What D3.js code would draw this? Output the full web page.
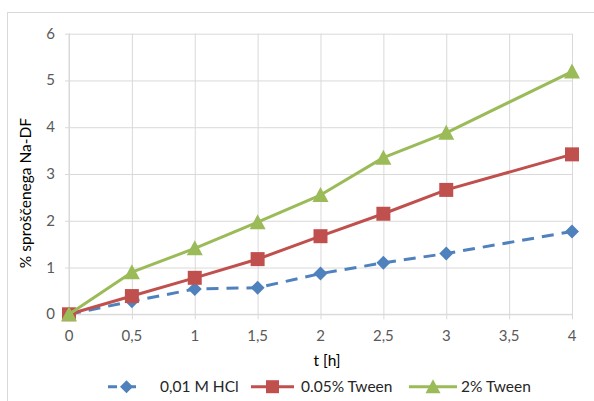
<!DOCTYPE html>
<html>
<head>
<meta charset="utf-8">
<script src="https://cdn.jsdelivr.net/npm/d3@7"></script>
<style>
  html, body { margin: 0; padding: 0; background: #fff; }
  svg { display: block; }
  text { font-family: Lato, "Noto Sans", sans-serif; }
</style>
</head>
<body>
<svg id="chart" width="594" height="401"></svg>
<script>
// Release of Na-DF over time (%)
const hours = [0, 0.5, 1, 1.5, 2, 2.5, 3, 4];
const hcl = [0, 0.28, 0.54, 0.57, 0.87, 1.10, 1.30, 1.77];
const tween005 = [0, 0.39, 0.78, 1.18, 1.67, 2.15, 2.66, 3.42];
const tween2 = [0, 0.90, 1.41, 1.97, 2.55, 3.35, 3.88, 5.19];

const xTicks = [0, 0.5, 1, 1.5, 2, 2.5, 3, 3.5, 4];
const yTicks = [0, 1, 2, 3, 4, 5, 6];
const seriesNames = ["0,01 M HCl", "0.05% Tween", "2% Tween"];

const series = [
  { name: seriesNames[0], values: hcl, color: "#4F81BD", marker: "diamond", dash: "12,8" },
  { name: seriesNames[1], values: tween005, color: "#C0504D", marker: "square", dash: null },
  { name: seriesNames[2], values: tween2, color: "#9BBB59", marker: "triangle", dash: null }
];

const svg = d3.select("#chart");
const grid = "#D9D9D9";
const plot = { left: 69, right: 572, top: 33.7, bottom: 314.3 };

const x = d3.scaleLinear().domain([0, 4]).range([plot.left, plot.right]);
const y = d3.scaleLinear().domain([0, 6]).range([plot.bottom, plot.top]);

// outer chart frame
svg.append("rect")
  .attr("x", 7.5).attr("y", 12.5)
  .attr("width", 620).attr("height", 420)
  .attr("fill", "#fff").attr("stroke", grid).attr("stroke-width", 1);

// gridlines
const gx = svg.append("g")
  .attr("transform", `translate(0,${plot.bottom})`)
  .call(d3.axisBottom(x).tickValues(xTicks).tickSize(-(plot.bottom - plot.top)).tickFormat(""));
gx.select(".domain").remove();
gx.selectAll(".tick line").attr("stroke", grid).attr("y2", -(plot.bottom - plot.top)).attr("y1", 5);

const gy = svg.append("g")
  .attr("transform", `translate(${plot.left},0)`)
  .call(d3.axisLeft(y).tickValues(yTicks).tickSize(-(plot.right - plot.left)).tickFormat(""));
gy.select(".domain").remove();
gy.selectAll(".tick line").attr("stroke", grid).attr("x1", -4);

// axis lines
svg.append("line").attr("x1", plot.left).attr("x2", plot.right)
  .attr("y1", y(0)).attr("y2", y(0)).attr("stroke", grid);
svg.append("line").attr("x1", plot.left).attr("x2", plot.left)
  .attr("y1", plot.top).attr("y2", y(0) + 5).attr("stroke", grid);

// tick labels
const fmt = d => String(d).replace(".", ",");
svg.append("g").selectAll("text").data(xTicks).join("text")
  .attr("x", d => x(d)).attr("y", 341)
  .attr("text-anchor", "middle")
  .attr("font-size", 15).attr("fill", "#595959")
  .text(fmt);
svg.append("g").selectAll("text").data(yTicks).join("text")
  .attr("x", 55).attr("y", d => y(d) + 5)
  .attr("text-anchor", "end")
  .attr("font-size", 15).attr("fill", "#595959")
  .text(fmt);

// axis titles
svg.append("text")
  .attr("x", 327).attr("y", 366)
  .attr("text-anchor", "middle").attr("font-size", 15.5).attr("fill", "#000")
  .text("t [h]");
svg.append("text")
  .attr("transform", `translate(31,193) rotate(-90)`)
  .attr("text-anchor", "middle").attr("font-size", 15.5).attr("fill", "#000")
  .text("% sproščenega Na-DF");

// marker shapes
function markerPath(type, r) {
  if (type === "diamond") return `M0,${-r}L${r},0L0,${r}L${-r},0Z`;
  if (type === "square") return `M${-r},${-r}H${r}V${r}H${-r}Z`;
  return `M0,${-r - 1}L${r + 1},${r}H${-r - 1}Z`;
}

const line = d3.line().x((d, i) => x(hours[i])).y(d => y(d));

series.forEach(s => {
  const g = svg.append("g");
  g.append("path")
    .attr("d", line(s.values))
    .attr("fill", "none")
    .attr("stroke", s.color)
    .attr("stroke-width", 3)
    .attr("stroke-linejoin", "round")
    .attr("stroke-dasharray", s.dash);
  g.selectAll("path.m").data(s.values).join("path")
    .attr("class", "m")
    .attr("transform", (d, i) => `translate(${x(hours[i])},${y(d)})`)
    .attr("d", markerPath(s.marker, s.marker === "diamond" ? 7 : 7))
    .attr("fill", s.color);
});

// legend
const legendY = 386.7;
const legendItems = [
  { x0: 108, x1: 145, tx: 160 },
  { x0: 251, x1: 294, tx: 301 },
  { x0: 409, x1: 457, tx: 461 }
];
series.forEach((s, i) => {
  const L = legendItems[i];
  const g = svg.append("g");
  g.append("line")
    .attr("x1", L.x0).attr("x2", L.x1)
    .attr("y1", legendY).attr("y2", legendY)
    .attr("stroke", s.color).attr("stroke-width", 3)
    .attr("stroke-dasharray", s.dash ? "9,10" : null);
  g.append("path")
    .attr("transform", `translate(${(L.x0 + L.x1) / 2},${legendY})`)
    .attr("d", markerPath(s.marker, 6.5))
    .attr("fill", s.color);
  g.append("text")
    .attr("x", L.tx).attr("y", legendY + 5.5)
    .attr("font-size", 15.5).attr("fill", "#262626")
    .text(s.name);
});
</script>
</body>
</html>
